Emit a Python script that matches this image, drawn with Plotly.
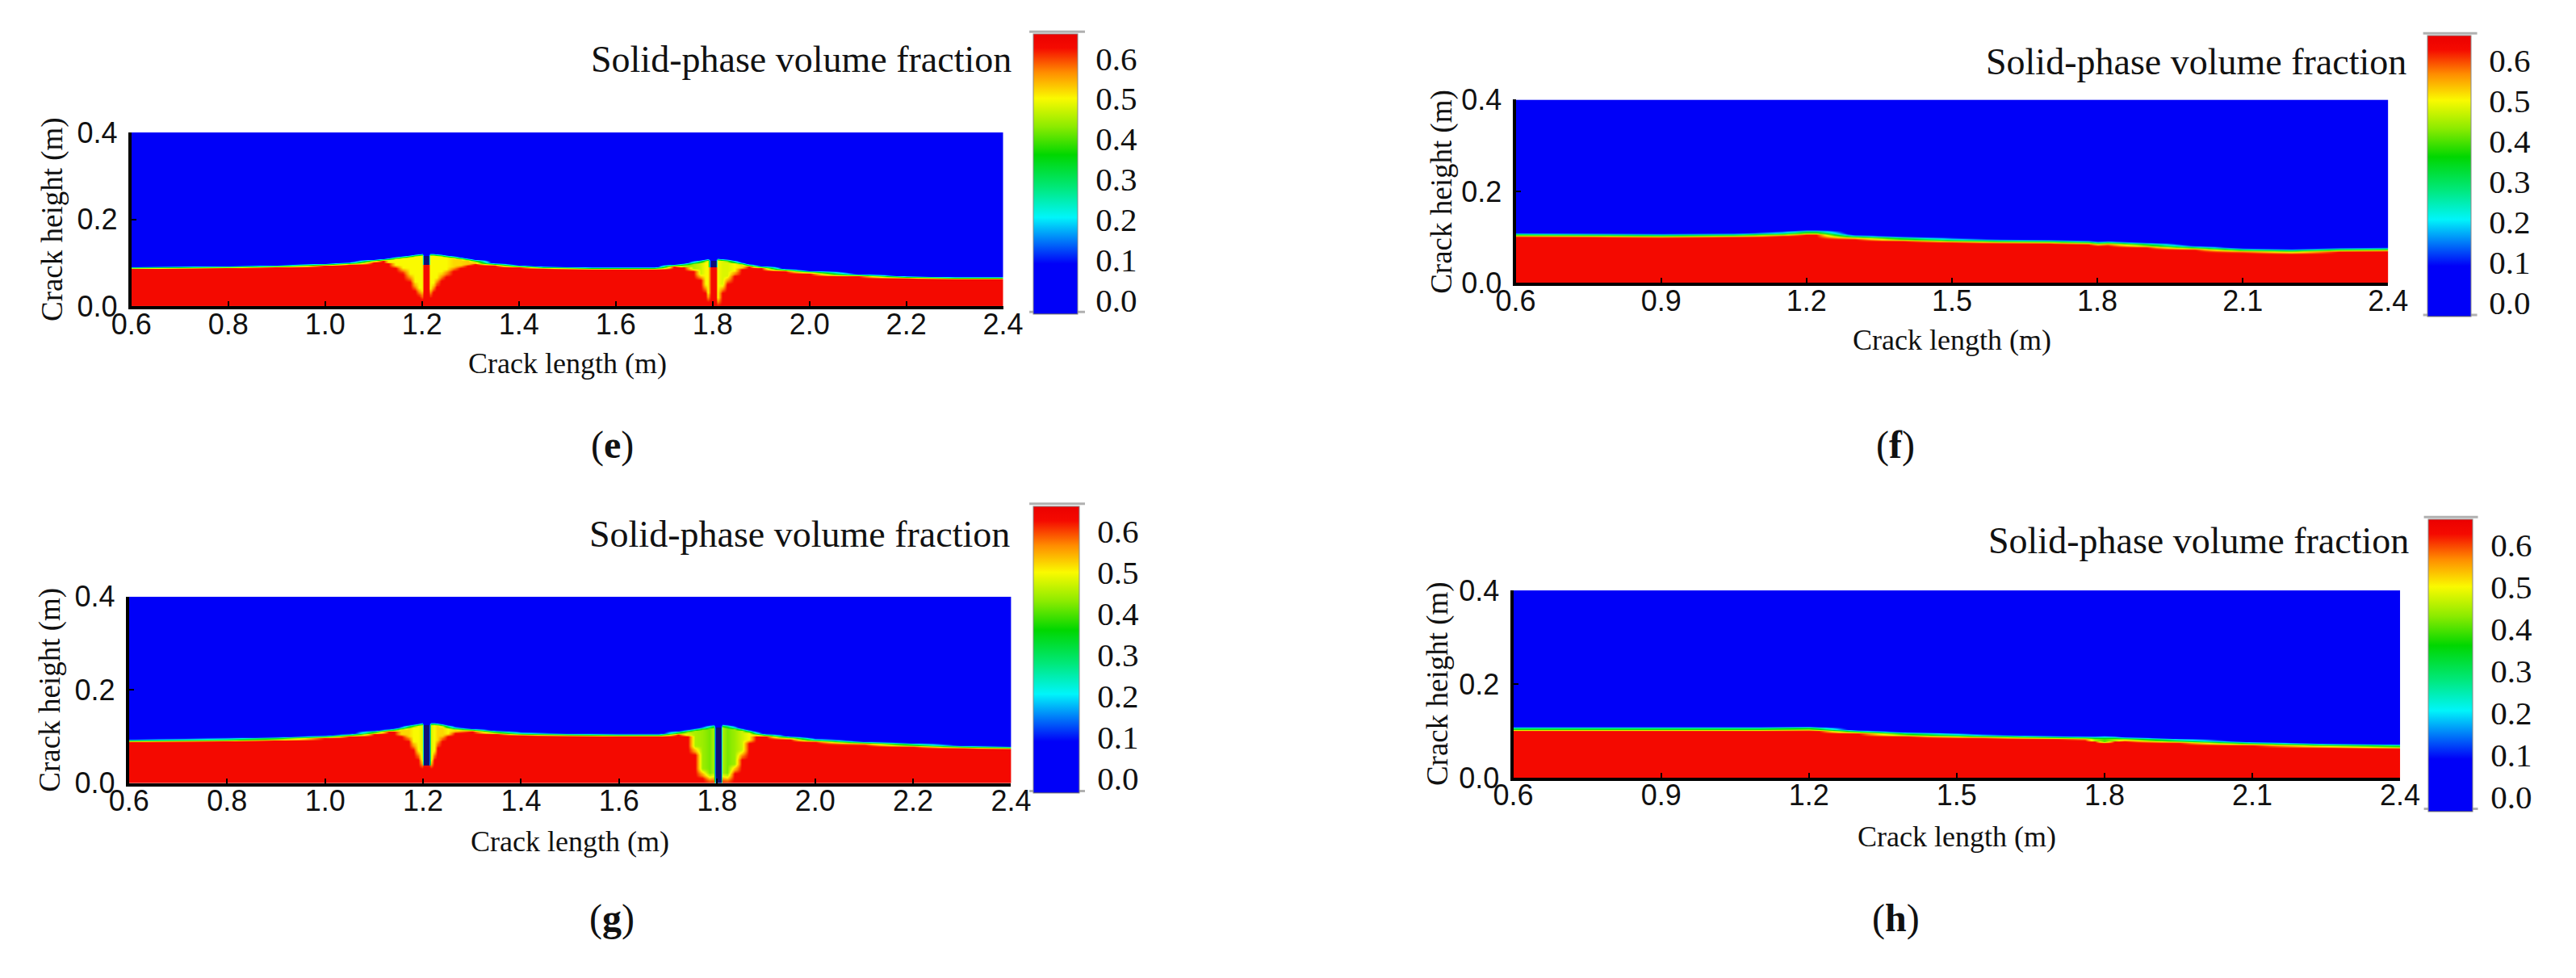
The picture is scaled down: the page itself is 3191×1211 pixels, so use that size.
import numpy as np
import plotly.graph_objects as go

W, H = 3191, 1211

# ---------------- data ----------------
RED = 0.63          # packed proppant bed
SLOT = -0.035       # open perforation slot (darkest blue)
CMIN, CMAX = -0.035, 0.66
RAMP = 0.022        # depth over which a loosened zone fades back into the packed bed

CB_TICKS = [0.0, 0.1, 0.2, 0.3, 0.4, 0.5, 0.6]
CB_TEXT = ["0.0", "0.1", "0.2", "0.3", "0.4", "0.5", "0.6"]
Y_TICKS = [0.0, 0.2, 0.4]
Y_TEXT = ["0.0", "0.2", "0.4"]
X_TICKS_A = [0.6, 0.8, 1.0, 1.2, 1.4, 1.6, 1.8, 2.0, 2.2, 2.4]
X_TEXT_A = ["0.6", "0.8", "1.0", "1.2", "1.4", "1.6", "1.8", "2.0", "2.2", "2.4"]
X_TICKS_B = [0.6, 0.9, 1.2, 1.5, 1.8, 2.1, 2.4]
X_TEXT_B = ["0.6", "0.9", "1.2", "1.5", "1.8", "2.1", "2.4"]

# Each panel: sample positions along the crack, height where the fluid (pure blue) starts,
# bottom of the loosened zone next to the perforations (None = none) and its volume fraction.
E_X = [0.60, 0.70, 0.80, 0.90, 1.00, 1.05, 1.10, 1.12, 1.13, 1.145, 1.16, 1.175, 1.185, 1.193, 1.200,
       1.203, 1.214, 1.217, 1.223, 1.23, 1.24, 1.25, 1.265, 1.28, 1.295, 1.31, 1.35, 1.40, 1.45,
       1.55, 1.68, 1.72, 1.74, 1.76, 1.775, 1.785, 1.79, 1.797, 1.807, 1.811, 1.82, 1.83, 1.845,
       1.86, 1.875, 1.90, 1.95, 2.00, 2.10, 2.20, 2.30, 2.40]
E_TOP = [0.093, 0.094, 0.095, 0.097, 0.101, 0.104, 0.109, 0.111, 0.113, 0.116, 0.118, 0.120, 0.122,
         0.123, 0.124, 0.124, 0.124, 0.124, 0.124, 0.123, 0.122, 0.120, 0.118, 0.115, 0.112, 0.109,
         0.102, 0.097, 0.094, 0.092, 0.092, 0.099, 0.102, 0.106, 0.108, 0.110, 0.111, 0.112, 0.112,
         0.112, 0.111, 0.110, 0.107, 0.104, 0.100, 0.095, 0.088, 0.083, 0.077, 0.072, 0.070, 0.070]
E_LOOSE = [None, None, None, None, None, None, None, None, 0.100, 0.088, 0.075, 0.055, 0.035, 0.022,
           0.015, 0.097, 0.097, 0.020, 0.032, 0.045, 0.058, 0.068, 0.080, 0.088, 0.094, 0.098, None,
           None, None, None, None, None, 0.090, 0.080, 0.060, 0.030, 0.010, 0.092, 0.092, 0.000,
           0.030, 0.050, 0.070, 0.085, 0.092, None, None, None, None, None, None, None]
E_LV = [None, None, None, None, None, None, None, None, 0.50, 0.50, 0.50, 0.50, 0.50, 0.50, 0.50,
        SLOT, SLOT, 0.50, 0.50, 0.50, 0.50, 0.50, 0.52, 0.52, 0.53, 0.53, None, None, None, None,
        None, None, 0.45, 0.45, 0.47, 0.50, 0.50, SLOT, SLOT, 0.50, 0.48, 0.48, 0.50, 0.52, 0.53,
        None, None, None, None, None, None, None]
E_BAND = 0.007

F_X = [0.60, 0.75, 0.90, 1.05, 1.15, 1.20, 1.22, 1.30, 1.40, 1.50, 1.60, 1.70, 1.78, 1.80, 1.82,
       1.90, 2.00, 2.10, 2.20, 2.30, 2.40]
F_TOP = [0.112, 0.111, 0.110, 0.111, 0.114, 0.117, 0.117, 0.107, 0.103, 0.100, 0.098, 0.097, 0.095,
         0.093, 0.094, 0.090, 0.084, 0.078, 0.076, 0.079, 0.080]
F_LOOSE = [None] * 13 + [0.082] + [None] * 7
F_LV = [None] * 13 + [0.50] + [None] * 7
F_BAND = 0.011

G_X = [0.60, 0.70, 0.80, 0.90, 1.00, 1.05, 1.10, 1.13, 1.14, 1.155, 1.17, 1.18, 1.19, 1.198,
       1.202, 1.212, 1.216, 1.222, 1.23, 1.24, 1.25, 1.265, 1.30, 1.35, 1.40, 1.50, 1.60, 1.68,
       1.72, 1.74, 1.755, 1.77, 1.785, 1.793, 1.797, 1.807, 1.811, 1.82, 1.835, 1.85, 1.865, 1.88,
       1.90, 1.95, 2.00, 2.10, 2.20, 2.30, 2.40]
G_TOP = [0.096, 0.097, 0.098, 0.100, 0.104, 0.108, 0.114, 0.118, 0.120, 0.123, 0.126, 0.128, 0.130,
         0.132, 0.132, 0.132, 0.132, 0.132, 0.131, 0.129, 0.126, 0.123, 0.119, 0.114, 0.111, 0.109,
         0.108, 0.108, 0.113, 0.117, 0.120, 0.123, 0.126, 0.127, 0.128, 0.128, 0.128, 0.127, 0.124,
         0.120, 0.116, 0.112, 0.108, 0.102, 0.097, 0.091, 0.087, 0.083, 0.081]
G_LOOSE = [None, None, None, None, None, None, None, None, 0.110, 0.100, 0.090, 0.070, 0.050, 0.030,
           0.040, 0.040, 0.030, 0.050, 0.075, 0.090, 0.100, 0.108, None, None, None, None, None, None,
           None, 0.100, 0.060, 0.010, 0.000, 0.000, 0.000, 0.000, 0.000, 0.000, 0.020, 0.050, 0.085,
           0.100, None, None, None, None, None, None, None]
G_LV = [None, None, None, None, None, None, None, None, 0.50, 0.52, 0.52, 0.50, 0.50, 0.48, SLOT,
        SLOT, 0.48, 0.50, 0.52, 0.52, 0.50, 0.52, None, None, None, None, None, None, None, 0.48,
        0.45, 0.44, 0.42, 0.45, SLOT, SLOT, 0.45, 0.42, 0.44, 0.47, 0.50, 0.52, None, None, None,
        None, None, None, None]
G_BAND = 0.008

H_X = [0.60, 0.80, 1.00, 1.10, 1.20, 1.22, 1.30, 1.40, 1.55, 1.70, 1.76, 1.78, 1.80, 1.82, 1.84,
       1.95, 2.10, 2.25, 2.40]
H_TOP = [0.110, 0.110, 0.110, 0.110, 0.111, 0.110, 0.104, 0.099, 0.095, 0.092, 0.091, 0.092, 0.093,
         0.092, 0.089, 0.085, 0.079, 0.075, 0.073]
H_LOOSE = [None] * 11 + [0.078, 0.074, 0.078] + [None] * 5
H_LV = [None] * 11 + [0.45, 0.40, 0.45] + [None] * 5
H_BAND = 0.010

LABEL_TITLE = "Solid-phase volume fraction"
LABEL_X = "Crack length (m)"
LABEL_Y = "Crack height (m)"

# ---------------- geometry (pixels) ----------------
PANELS = [
    dict(tag="e", X=E_X, TOP=E_TOP, LOOSE=E_LOOSE, LV=E_LV, BAND=E_BAND, xt=(X_TICKS_A, X_TEXT_A),
         plot=(140, 1237, 149, 372), cb=(1275, 1330, 23, 370), cbl=(1270, 1340, 20, 379),
         title=(1250, 55), ytitle=40, xtitle=445, label=(745, 550)),
    dict(tag="f", X=F_X, TOP=F_TOP, LOOSE=F_LOOSE, LV=F_LV, BAND=F_BAND, xt=(X_TICKS_B, X_TEXT_B),
         plot=(1882, 2980, 107, 342), cb=(3029, 3083, 25, 373), cbl=(3024, 3092, 22, 383),
         title=(3005, 58), ytitle=1789, xtitle=415, label=(2360, 550)),
    dict(tag="g", X=G_X, TOP=G_TOP, LOOSE=G_LOOSE, LV=G_LV, BAND=G_BAND, xt=(X_TICKS_A, X_TEXT_A),
         plot=(137, 1247, 744, 983), cb=(1275, 1332, 628, 983), cbl=(1270, 1340, 625, 993),
         title=(1248, 664), ytitle=38, xtitle=1058, label=(745, 1156)),
    dict(tag="h", X=H_X, TOP=H_TOP, LOOSE=H_LOOSE, LV=H_LV, BAND=H_BAND, xt=(X_TICKS_B, X_TEXT_B),
         plot=(1879, 2995, 736, 976), cb=(3030, 3085, 645, 1007), cbl=(3025, 3093, 642, 1016),
         title=(3008, 672), ytitle=1784, xtitle=1052, label=(2360, 1156)),
]

YS = np.round(np.arange(0.0, 0.4001, 0.002), 4)


def frac(v):
    return (v - CMIN) / (CMAX - CMIN)


CS = [
    [0.0, "rgb(15,15,120)"],
    [frac(-0.032), "rgb(0,0,248)"],
    [frac(0.090), "rgb(0,0,248)"],
    [frac(0.205), "rgb(0,245,250)"],
    [frac(0.280), "rgb(0,232,120)"],
    [frac(0.360), "rgb(0,215,0)"],
    [frac(0.430), "rgb(140,235,0)"],
    [frac(0.500), "rgb(250,250,0)"],
    [frac(0.565), "rgb(255,140,0)"],
    [frac(0.625), "rgb(245,10,0)"],
    [1.0, "rgb(235,0,0)"],
]


def column(top, loose, lv, band):
    bed = top - band
    z = np.where(YS < bed, RED, 0.0)
    start = RED
    if loose is not None and loose < bed:
        if lv == SLOT:
            zone = np.full_like(YS, SLOT)
        else:
            # fade from the packed bed into the loosened value
            ramp = min(RAMP, 0.4 * (bed - loose))
            w = np.clip((YS - loose) / ramp, 0.0, 1.0)
            zone = RED + (lv - RED) * w
        z = np.where((YS >= loose) & (YS < bed), zone, z)
        start = lv
    t = (YS - bed) / band
    z = np.where((YS >= bed) & (YS < top), start * (1 - t), z)
    return z


def px(xp):
    return xp / W


def py(yp):
    return 1 - yp / H


fig = go.Figure()
serif = "Liberation Serif, Times New Roman, serif"
sans = "Liberation Sans, Arial, sans-serif"
annotations = []
shapes = []

for i, p in enumerate(PANELS):
    n = "" if i == 0 else str(i + 1)
    Z = np.array([column(t, l, v, p["BAND"]) for t, l, v in zip(p["TOP"], p["LOOSE"], p["LV"])]).T
    x0, x1, y0, y1 = p["plot"]
    c0, c1, ct, cb = p["cb"]
    fig.add_trace(go.Heatmap(
        x=p["X"], y=YS, z=Z, zsmooth="best", colorscale=CS, zmin=CMIN, zmax=CMAX,
        xaxis="x" + n, yaxis="y" + n, hoverinfo="skip",
        colorbar=dict(
            x=px(c0), xanchor="left", y=py(ct), yanchor="top",
            len=cb - ct, lenmode="pixels", thickness=c1 - c0, thicknessmode="pixels",
            xpad=0, ypad=0, outlinewidth=1, outlinecolor="#8a8a8a",
            tickvals=CB_TICKS, ticktext=CB_TEXT, ticks="outside", ticklen=14,
            tickcolor="rgba(0,0,0,0)", tickfont=dict(family=serif, size=41, color="#111"),
        ),
    ))
    ax = dict(domain=[px(x0), px(x1)], range=[0.6, 2.4], anchor="y" + n,
              showgrid=False, zeroline=False, showline=True, linecolor="black", linewidth=4,
              ticks="inside", ticklen=6, tickwidth=2, tickcolor="black",
              tickvals=p["xt"][0], ticktext=p["xt"][1], ticklabelstandoff=-13,
              tickfont=dict(family=sans, size=36, color="#111"))
    ay = dict(domain=[py(y1), py(y0)], range=[0, 0.4], anchor="x" + n,
              showgrid=False, zeroline=False, showline=True, linecolor="black", linewidth=4,
              ticks="inside", ticklen=6, tickwidth=2, tickcolor="black",
              tickvals=Y_TICKS, ticktext=Y_TEXT, ticklabelstandoff=6,
              tickfont=dict(family=sans, size=36, color="#111"))
    fig.update_layout(**{"xaxis" + n: ax, "yaxis" + n: ay})

    tx, ty = p["title"]
    annotations.append(dict(text=LABEL_TITLE, x=px(tx), y=py(ty), xref="paper", yref="paper",
                            xanchor="right", yanchor="middle", showarrow=False,
                            font=dict(family=serif, size=46, color="#111")))
    annotations.append(dict(text=LABEL_Y, x=px(p["ytitle"]), y=py((y0 + y1) / 2), xref="paper",
                            yref="paper", xanchor="center", yanchor="middle", textangle=-90,
                            showarrow=False, font=dict(family=serif, size=37, color="#111")))
    annotations.append(dict(text=LABEL_X, x=px((x0 + x1) / 2), y=py(p["xtitle"]), xref="paper",
                            yref="paper", xanchor="center", yanchor="middle", showarrow=False,
                            font=dict(family=serif, size=36, color="#111")))
    lx, ly = p["label"]
    annotations.append(dict(text="(<b>%s</b>)" % p["tag"], x=px(lx), y=py(ly), xref="paper",
                            yref="paper", xanchor="center", yanchor="middle", showarrow=False,
                            font=dict(family=serif, size=48, color="#111")))
    l0, l1, lt, lb = p["cbl"]
    for yy in (lt, lb):
        shapes.append(dict(type="line", xref="paper", yref="paper", x0=px(l0), x1=px(l1),
                           y0=py(yy), y1=py(yy), line=dict(color="#b0b0b0", width=3)))

fig.update_layout(width=W, height=H, autosize=False, margin=dict(l=0, r=0, t=0, b=0),
                  paper_bgcolor="white", plot_bgcolor="white", showlegend=False,
                  annotations=annotations, shapes=shapes)

fig.write_html("out.html", config={"displayModeBar": False},
               post_script="document.body.style.margin='0';document.body.style.overflow='hidden';")
